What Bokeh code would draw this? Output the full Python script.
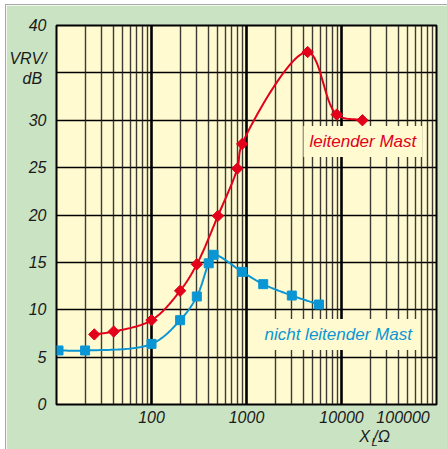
import numpy as np
from bokeh.plotting import figure
from bokeh.models import (Range1d, FixedTicker, Grid, Label, BasicTickFormatter,
                          LogAxis)
from bokeh.embed import file_html
from bokeh.resources import INLINE

# ---- data ----
x_leit = [25, 40, 100, 200, 300, 500, 800, 900, 4400, 8900, 16600]
y_leit = [7.4, 7.7, 8.9, 12.0, 14.8, 19.9, 24.9, 27.5, 37.2, 30.6, 30.0]

x_nicht = [10.5, 20, 100, 200, 300, 400, 450, 900, 1500, 3000, 5800]
y_nicht = [5.7, 5.7, 6.4, 8.9, 11.4, 14.9, 15.8, 14.0, 12.7, 11.5, 10.55]

y_ticks = [0, 5, 10, 15, 20, 25, 30, 35, 40]
x_major = [10, 100, 1000, 10000, 100000]
x_label_ticks = [100, 1000, 10000, 100000]
x_minor = [m * d for d in (10, 100, 1000, 10000) for m in range(2, 10)]

GREEN = "#c9e3c3"
YELLOW = "#fffad0"
RED = "#e2001a"
BLUE = "#0a96d4"
INK = "#1a1a1a"
FONT = "Liberation Sans"
NB = "\u00a0"


def smooth(xs, ys, n=40, alpha=0.5):
    """Centripetal Catmull-Rom through the points, in screen-like space."""
    P = np.column_stack([95 * np.log10(xs), 9.475 * np.array(ys, float)])
    P = np.vstack([2 * P[0] - P[1], P, 2 * P[-1] - P[-2]])
    out = []
    for i in range(1, len(P) - 2):
        p0, p1, p2, p3 = P[i - 1], P[i], P[i + 1], P[i + 2]
        t0 = 0.0
        t1 = t0 + np.linalg.norm(p1 - p0) ** alpha
        t2 = t1 + np.linalg.norm(p2 - p1) ** alpha
        t3 = t2 + np.linalg.norm(p3 - p2) ** alpha
        t = np.linspace(t1, t2, n)[:, None]
        A1 = (t1 - t) / (t1 - t0) * p0 + (t - t0) / (t1 - t0) * p1
        A2 = (t2 - t) / (t2 - t1) * p1 + (t - t1) / (t2 - t1) * p2
        A3 = (t3 - t) / (t3 - t2) * p2 + (t - t2) / (t3 - t2) * p3
        B1 = (t2 - t) / (t2 - t0) * A1 + (t - t0) / (t2 - t0) * A2
        B2 = (t3 - t) / (t3 - t1) * A2 + (t - t1) / (t3 - t1) * A3
        C = (t2 - t) / (t2 - t1) * B1 + (t - t1) / (t2 - t1) * B2
        out.append(C if i == 1 else C[1:])
    C = np.vstack(out)
    return 10 ** (C[:, 0] / 95), C[:, 1] / 9.475


p = figure(width=442, height=445, x_axis_type="log",
           x_range=Range1d(10, 100000), y_range=Range1d(0, 40),
           output_backend="svg", toolbar_location=None,
           min_border_left=50, min_border_right=12,
           min_border_top=20, min_border_bottom=46)
p.margin = (4, 0, 0, 5)
p.styles = {"border-top": "1px solid #a8a8a8", "border-left": "1px solid #a8a8a8"}

p.background_fill_color = YELLOW
p.border_fill_color = GREEN
p.outline_line_color = "black"
p.outline_line_width = 2

# grids
p.xgrid.visible = False
p.ygrid.ticker = FixedTicker(ticks=y_ticks)
p.ygrid.grid_line_color = "black"
p.ygrid.grid_line_width = 1.5
p.add_layout(Grid(dimension=0, ticker=FixedTicker(ticks=x_minor),
                  grid_line_color="#1a1a1a", grid_line_width=1.4,
                  grid_line_alpha=0.85))
p.add_layout(Grid(dimension=0, ticker=FixedTicker(ticks=x_major),
                  grid_line_color="black", grid_line_width=2.6))


def style_axis(ax, size="16px"):
    ax.axis_line_color = None
    ax.major_tick_line_color = None
    ax.minor_tick_line_color = None
    ax.major_tick_out = 0
    ax.major_tick_in = 0
    ax.minor_tick_out = 0
    ax.minor_tick_in = 0
    ax.major_label_text_font = FONT
    ax.major_label_text_font_style = "italic"
    ax.major_label_text_font_size = size
    ax.major_label_text_color = INK


style_axis(p.xaxis[0])
style_axis(p.yaxis[0])

# y axis: the "VRV/ dB" title takes the place of the 35 label
title_pos = 35.45
p.yaxis.ticker = FixedTicker(ticks=[t for t in y_ticks if t != 35] + [title_pos])
p.yaxis.major_label_overrides = {title_pos: "VRV/\ndB" + NB}
p.yaxis.major_label_standoff = 10

# x axis tick labels (last one pulled inside the frame)
p.xaxis.ticker = FixedTicker(ticks=x_label_ticks)
p.xaxis.formatter = BasicTickFormatter(use_scientific=False)
p.xaxis.major_label_overrides = {100000: "100000" + NB * 4}
p.xaxis.major_label_standoff = 4

# x axis title X_L/Ω built from two extra label-only axes
pos_X, pos_sub, pos_unit = 17460, 22260, 26370
ax_t = LogAxis(ticker=FixedTicker(ticks=[pos_X, pos_unit]),
               major_label_overrides={pos_X: "X", pos_unit: "/Ω"})
style_axis(ax_t)
ax_t.major_label_text_align = "left"
ax_t.major_label_standoff = -1
p.add_layout(ax_t, "below")

ax_s = LogAxis(ticker=FixedTicker(ticks=[pos_sub]),
               major_label_overrides={pos_sub: "L"})
style_axis(ax_s, "11px")
ax_s.major_label_text_align = "left"
ax_s.major_label_standoff = -12
p.add_layout(ax_s, "below")

# curves
xs, ys = smooth(x_leit, y_leit)
p.line(xs, ys, line_color=RED, line_width=2)
xs, ys = smooth(x_nicht, y_nicht)
p.line(xs, ys, line_color=BLUE, line_width=2)

p.scatter(x_leit, y_leit, marker="square", angle=np.pi / 4, size=8,
          fill_color=RED, line_color=RED)
p.scatter(x_nicht, y_nicht, marker="square", size=9,
          fill_color=BLUE, line_color=BLUE)

# series labels
p.add_layout(Label(x=3980, y=27.75, text="leitender Mast", text_align="left",
                   text_baseline="middle", text_color=RED, text_font=FONT,
                   text_font_style="italic", text_font_size="17px",
                   background_fill_color=YELLOW, padding=6))
p.add_layout(Label(x=1337, y=7.39, text="nicht leitender Mast", text_align="left",
                   text_baseline="middle", text_color=BLUE, text_font=FONT,
                   text_font_style="italic", text_font_size="17px",
                   background_fill_color=YELLOW, padding=6))

open("out.html", "w").write(file_html(p, INLINE))
